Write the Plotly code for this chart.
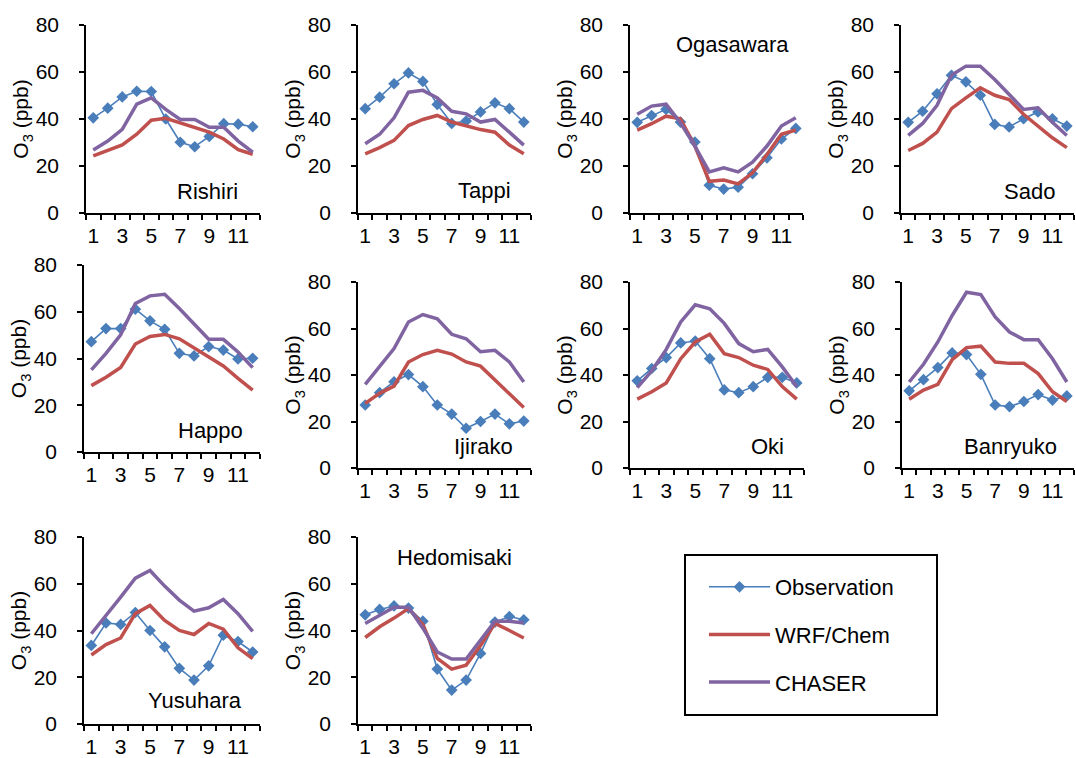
import plotly.graph_objects as go

months = list(range(1, 13))
x_tick_vals = [1, 3, 5, 7, 9, 11]
x_tick_text = ["1", "3", "5", "7", "9", "11"]
y_tick_vals = [0, 20, 40, 60, 80]

stations = ["Rishiri", "Tappi", "Ogasawara", "Sado", "Happo",
            "Ijirako", "Oki", "Banryuko", "Yusuhara", "Hedomisaki"]

obs_rishiri = [40.5, 44.6, 49.4, 51.8, 51.7, 40.0, 30.1, 28.2, 32.6, 38.0, 37.8, 36.7]
wrf_rishiri = [24.3, 26.8, 29.0, 33.5, 39.5, 40.3, 38.3, 36.6, 34.4, 31.5, 27.0, 25.0]
chs_rishiri = [26.8, 30.6, 35.6, 46.3, 49.0, 44.1, 39.8, 39.8, 36.5, 36.5, 30.6, 25.9]

obs_tappi = [44.4, 49.3, 55.0, 59.6, 56.0, 46.2, 38.1, 39.1, 43.0, 46.9, 44.4, 38.7]
wrf_tappi = [25.2, 27.8, 30.9, 37.2, 39.8, 41.5, 38.7, 37.2, 35.5, 34.4, 28.9, 25.2]
chs_tappi = [29.5, 33.5, 40.5, 51.4, 52.2, 49.0, 43.3, 42.2, 38.7, 39.8, 34.4, 28.9]

obs_ogasawara = [38.6, 41.5, 44.1, 38.7, 30.2, 11.8, 10.2, 11.0, 16.7, 23.5, 31.5, 36.0]
wrf_ogasawara = [35.3, 38.0, 41.2, 40.1, 28.5, 13.5, 14.0, 12.4, 17.1, 24.9, 33.5, 35.3]
chs_ogasawara = [42.0, 45.5, 46.3, 38.4, 28.5, 17.5, 19.2, 17.5, 21.6, 28.5, 37.0, 40.5]

obs_sado = [38.6, 43.3, 50.7, 58.6, 55.8, 50.1, 37.7, 36.6, 40.1, 43.0, 40.1, 37.0]
wrf_sado = [26.6, 29.6, 34.4, 44.4, 49.0, 53.3, 50.1, 48.3, 42.0, 37.2, 32.0, 27.8]
chs_sado = [33.0, 38.1, 45.8, 58.6, 62.5, 62.5, 56.8, 50.4, 44.1, 44.8, 38.6, 33.0]

obs_happo = [47.2, 52.8, 52.8, 61.1, 56.1, 52.5, 42.2, 41.1, 45.1, 43.6, 39.8, 40.1]
wrf_happo = [28.4, 32.0, 36.2, 46.2, 49.4, 50.3, 48.4, 44.4, 40.8, 36.8, 31.5, 26.5]
chs_happo = [35.1, 42.2, 50.1, 63.5, 66.8, 67.5, 61.4, 55.0, 48.2, 48.2, 42.8, 36.1]

obs_ijirako = [27.1, 32.4, 37.1, 40.2, 35.0, 27.1, 23.2, 17.1, 20.0, 23.2, 19.0, 20.2]
wrf_ijirako = [27.8, 32.1, 35.2, 45.6, 48.8, 50.6, 49.0, 45.6, 43.8, 38.0, 31.8, 26.0]
chs_ijirako = [36.0, 43.8, 51.4, 62.8, 66.0, 64.2, 57.5, 55.6, 50.0, 50.6, 45.6, 37.0]

obs_oki = [37.5, 42.8, 47.5, 53.8, 54.6, 47.0, 33.6, 32.4, 35.0, 39.0, 39.0, 36.6]
wrf_oki = [29.6, 32.8, 36.6, 47.0, 54.2, 57.5, 49.2, 47.5, 44.2, 42.4, 35.0, 29.6]
chs_oki = [34.6, 41.8, 51.0, 62.8, 70.2, 68.5, 62.2, 53.5, 50.0, 51.0, 43.5, 35.0]

obs_banryuko = [33.2, 38.0, 43.2, 49.5, 48.8, 40.3, 27.1, 26.4, 28.6, 31.6, 29.2, 31.0]
wrf_banryuko = [29.6, 33.5, 36.0, 46.6, 51.8, 52.4, 45.6, 45.0, 45.0, 40.6, 32.8, 28.6]
chs_banryuko = [37.0, 44.6, 54.2, 65.6, 75.6, 74.6, 65.0, 58.5, 55.2, 55.2, 47.0, 37.0]

obs_yusuhara = [33.6, 43.2, 42.6, 47.7, 40.0, 33.0, 23.8, 18.8, 24.9, 38.0, 35.3, 30.8]
wrf_yusuhara = [29.5, 34.0, 36.8, 47.2, 50.7, 44.3, 40.0, 38.3, 43.0, 40.6, 32.6, 28.0]
chs_yusuhara = [38.6, 46.3, 54.3, 62.4, 65.7, 59.0, 53.0, 48.3, 49.7, 53.3, 47.2, 39.6]

obs_hedomisaki = [46.7, 49.0, 50.5, 49.6, 44.0, 23.5, 14.5, 18.8, 30.2, 43.6, 46.0, 44.6]
wrf_hedomisaki = [37.0, 41.6, 45.3, 49.4, 42.6, 28.1, 23.5, 25.2, 33.6, 43.0, 40.0, 36.8]
chs_hedomisaki = [43.0, 46.7, 50.0, 50.0, 41.0, 30.8, 27.8, 27.8, 35.8, 44.0, 44.0, 43.2]

obs_all = [obs_rishiri, obs_tappi, obs_ogasawara, obs_sado, obs_happo,
           obs_ijirako, obs_oki, obs_banryuko, obs_yusuhara, obs_hedomisaki]
wrf_all = [wrf_rishiri, wrf_tappi, wrf_ogasawara, wrf_sado, wrf_happo,
           wrf_ijirako, wrf_oki, wrf_banryuko, wrf_yusuhara, wrf_hedomisaki]
chs_all = [chs_rishiri, chs_tappi, chs_ogasawara, chs_sado, chs_happo,
           chs_ijirako, chs_oki, chs_banryuko, chs_yusuhara, chs_hedomisaki]

W, H = 1076, 758
# plot-area pixel boxes (left, right, top, bottom)
boxes = [(86, 260, 25, 213), (358, 531, 25, 213), (630, 803, 25, 213), (901, 1074, 25, 213),
         (84, 260, 265, 452), (358, 531, 282, 468), (630, 804, 282, 468), (902, 1074, 282, 468),
         (84, 260, 537, 724), (358, 531, 537, 724)]
# station label positions in axis-domain fractions
label_pos = [(0.70, 0.112), (0.734, 0.118), (0.59, 0.895), (0.74, 0.112), (0.716, 0.114),
             (0.728, 0.115), (0.79, 0.115), (0.628, 0.115), (0.63, 0.125), (0.56, 0.89)]

C_OBS = "#4A7EBB"
C_WRF = "#C0504D"
C_CHS = "#8064A2"
FONT = "Liberation Sans, Arial, sans-serif"
TICK_SIZE = 21

fig = go.Figure()
layout = {}
annotations = []
for i in range(10):
    n = "" if i == 0 else str(i + 1)
    xa, ya = "x" + n, "y" + n
    l, r, t, b = boxes[i]
    fig.add_trace(go.Scatter(x=months, y=obs_all[i], xaxis=xa, yaxis=ya, mode="lines+markers",
                             name="Observation", legendgroup="obs", showlegend=(i == 0),
                             line=dict(color=C_OBS, width=1.6),
                             marker=dict(symbol="diamond", size=9, color=C_OBS)))
    fig.add_trace(go.Scatter(x=months, y=wrf_all[i], xaxis=xa, yaxis=ya, mode="lines",
                             name="WRF/Chem", legendgroup="wrf", showlegend=(i == 0),
                             line=dict(color=C_WRF, width=3.5)))
    fig.add_trace(go.Scatter(x=months, y=chs_all[i], xaxis=xa, yaxis=ya, mode="lines",
                             name="CHASER", legendgroup="chs", showlegend=(i == 0),
                             line=dict(color=C_CHS, width=3.5)))
    layout["xaxis" + n] = dict(
        domain=[l / W, r / W], anchor=ya, range=[0.5, 12.5], automargin=False,
        tickmode="array", tickvals=x_tick_vals, ticktext=x_tick_text, ticks="",
        ticklabelstandoff=3,
        minor=dict(tickmode="linear", tick0=0.5, dtick=1, ticks="outside", ticklen=5,
                   tickwidth=1.5, tickcolor="black"),
        showline=True, linecolor="black", linewidth=1.5, showgrid=False, zeroline=False,
        tickfont=dict(size=TICK_SIZE, color="black", family=FONT), fixedrange=True)
    layout["yaxis" + n] = dict(
        domain=[1 - b / H, 1 - t / H], anchor=xa, range=[0, 80], automargin=False,
        tickmode="array", tickvals=y_tick_vals, ticks="outside", ticklen=5, tickwidth=1.5,
        tickcolor="black", ticklabelstandoff=16,
        showline=True, linecolor="black", linewidth=1.5, showgrid=False, zeroline=False,
        tickfont=dict(size=TICK_SIZE, color="black", family=FONT),
        title=dict(text="O<sub>3</sub> (ppb)", font=dict(size=21, color="black", family=FONT),
                   standoff=0), fixedrange=True)
    lx, ly = label_pos[i]
    annotations.append(dict(text=stations[i], xref=xa + " domain", yref=ya + " domain",
                            x=lx, y=ly, xanchor="center", yanchor="middle", showarrow=False,
                            font=dict(size=22, color="black", family=FONT)))

fig.update_layout(
    **layout,
    annotations=annotations,
    shapes=[dict(type="rect", xref="paper", yref="paper",
                 x0=685 / W, x1=937 / W, y0=1 - 715 / H, y1=1 - 555 / H,
                 line=dict(color="black", width=2), fillcolor="rgba(0,0,0,0)", layer="below")],
    width=W, height=H,
    margin=dict(l=0, r=0, t=0, b=0),
    paper_bgcolor="white", plot_bgcolor="white",
    font=dict(family=FONT, size=21, color="black"),
    showlegend=True,
    legend=dict(x=704 / W, y=1 - 566 / H, xanchor="left", yanchor="top",
                borderwidth=0, bgcolor="rgba(0,0,0,0)",
                font=dict(size=22, color="black", family=FONT),
                tracegroupgap=16, itemwidth=61),
)

fig.write_html("out.html")
